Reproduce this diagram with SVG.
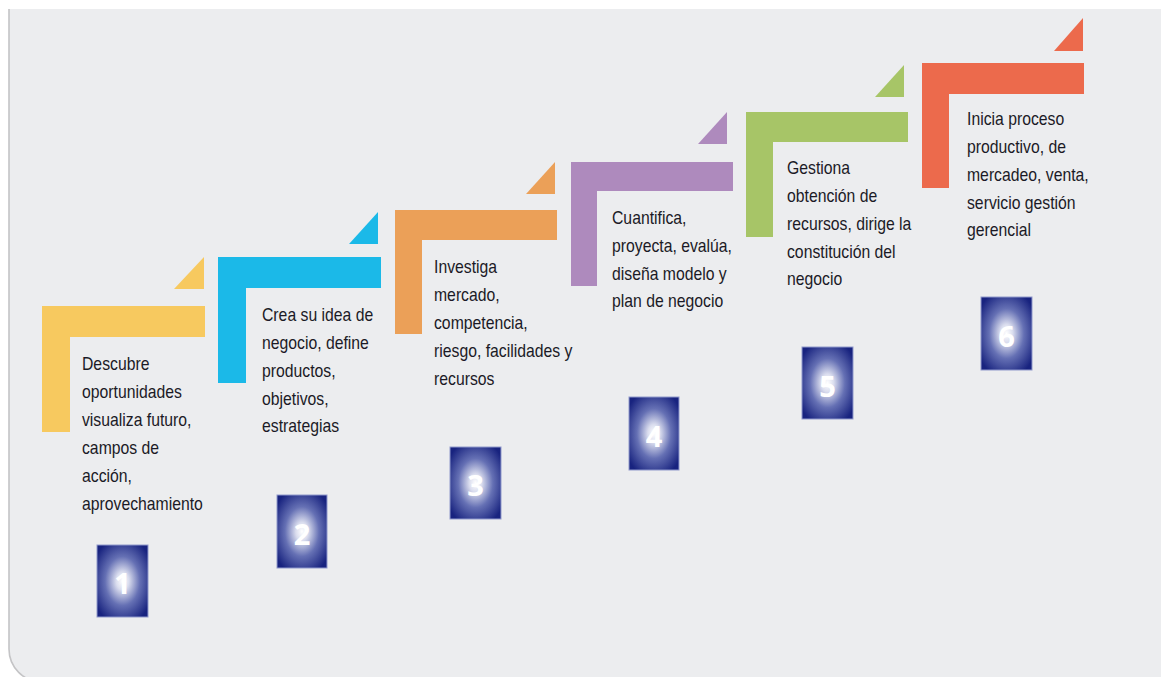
<svg xmlns="http://www.w3.org/2000/svg" width="1161" height="677" viewBox="0 0 1161 677">
  <defs>
    <radialGradient id="boxGrad" cx="0.5" cy="0.5" r="0.62">
      <stop offset="0" stop-color="#FFFFFF"/>
      <stop offset="0.2" stop-color="#DADDEE"/>
      <stop offset="0.55" stop-color="#6570B4"/>
      <stop offset="1" stop-color="#18237F"/>
    </radialGradient>
    <style>
      .txt { font-family: "Liberation Sans", Arial, sans-serif; font-size: 19px; fill: #1B1A26; }
      .num { font-family: "Open Sans", "Liberation Sans", sans-serif; font-weight: 700; font-size: 29px; fill: #FFFFFF; text-anchor: middle; }
      .box { fill: url(#boxGrad); stroke: #8F99CC; stroke-width: 1; }
      .yellow { fill: #F7C95F; }
      .cyan { fill: #1BB9E8; }
      .orange { fill: #EBA058; }
      .purple { fill: #AE8ABD; }
      .green { fill: #A7C567; }
      .red { fill: #EC6A4C; }
    </style>
  </defs>

  <rect x="0" y="0" width="1161" height="677" fill="#FFFFFF"/>
  <g id="panel">
    <path d="M 9 9 H 1161 V 682 H 42 A 33 33 0 0 1 9 649 Z" fill="#ECEDEF"/>
    <path d="M 9 9 V 649 A 33 33 0 0 0 42 682" fill="none" stroke="#C4C4C6" stroke-width="1.6"/>
  </g>

  <g id="connectors"></g>

  <g id="step1">
    <path class="yellow" d="M 42 306 H 205 V 337 H 70 V 432 H 42 Z"/>
    <polygon class="yellow" points="174,289 204,257 204,289"/>
    <text class="txt" transform="translate(82,0) scale(0.83,1)">
      <tspan x="0" y="370">Descubre</tspan>
      <tspan x="0" y="398">oportunidades</tspan>
      <tspan x="0" y="426">visualiza futuro,</tspan>
      <tspan x="0" y="454">campos de</tspan>
      <tspan x="0" y="482">acción,</tspan>
      <tspan x="0" y="510">aprovechamiento</tspan>
    </text>
  </g>
  <g id="num1">
    <rect class="box" x="97" y="545" width="51" height="72"/>
    <text class="num" x="122.5" y="594">1</text>
  </g>

  <g id="step2">
    <path class="cyan" d="M 218 257 H 381 V 288 H 246 V 383 H 218 Z"/>
    <polygon class="cyan" points="349,244 378,212 378,244"/>
    <text class="txt" transform="translate(262,0) scale(0.83,1)">
      <tspan x="0" y="321">Crea su idea de</tspan>
      <tspan x="0" y="349">negocio, define</tspan>
      <tspan x="0" y="377">productos,</tspan>
      <tspan x="0" y="405">objetivos,</tspan>
      <tspan x="0" y="432">estrategias</tspan>
    </text>
  </g>
  <g id="num2">
    <rect class="box" x="277" y="495" width="50" height="73"/>
    <text class="num" x="302" y="545">2</text>
  </g>

  <g id="step3">
    <path class="orange" d="M 395 210 H 557 V 240 H 422 V 334 H 395 Z"/>
    <polygon class="orange" points="526,194 555,162 555,194"/>
    <text class="txt" transform="translate(434,0) scale(0.83,1)">
      <tspan x="0" y="273">Investiga</tspan>
      <tspan x="0" y="301">mercado,</tspan>
      <tspan x="0" y="329">competencia,</tspan>
      <tspan x="0" y="357">riesgo, facilidades y</tspan>
      <tspan x="0" y="385">recursos</tspan>
    </text>
  </g>
  <g id="num3">
    <rect class="box" x="450" y="447" width="51" height="72"/>
    <text class="num" x="475.5" y="496">3</text>
  </g>

  <g id="step4">
    <path class="purple" d="M 571 162 H 733 V 191 H 597 V 286 H 571 Z"/>
    <polygon class="purple" points="698,144 727,112 727,144"/>
    <text class="txt" transform="translate(612,0) scale(0.83,1)">
      <tspan x="0" y="224">Cuantifica,</tspan>
      <tspan x="0" y="252">proyecta, evalúa,</tspan>
      <tspan x="0" y="280">diseña modelo y</tspan>
      <tspan x="0" y="307">plan de negocio</tspan>
    </text>
  </g>
  <g id="num4">
    <rect class="box" x="629" y="397" width="50" height="73"/>
    <text class="num" x="654" y="447">4</text>
  </g>

  <g id="step5">
    <path class="green" d="M 746 112 H 908 V 142 H 773 V 237 H 746 Z"/>
    <polygon class="green" points="875,97 904,65 904,97"/>
    <text class="txt" transform="translate(787,0) scale(0.83,1)">
      <tspan x="0" y="174">Gestiona</tspan>
      <tspan x="0" y="202">obtención de</tspan>
      <tspan x="0" y="230">recursos, dirige la</tspan>
      <tspan x="0" y="258">constitución del</tspan>
      <tspan x="0" y="285">negocio</tspan>
    </text>
  </g>
  <g id="num5">
    <rect class="box" x="802" y="347" width="51" height="72"/>
    <text class="num" x="827.5" y="397">5</text>
  </g>

  <g id="step6">
    <path class="red" d="M 922 63 H 1084 V 94 H 949 V 188 H 922 Z"/>
    <polygon class="red" points="1054,51 1083,18 1083,51"/>
    <text class="txt" transform="translate(967,0) scale(0.83,1)">
      <tspan x="0" y="125">Inicia proceso</tspan>
      <tspan x="0" y="153">productivo, de</tspan>
      <tspan x="0" y="181">mercadeo, venta,</tspan>
      <tspan x="0" y="209">servicio gestión</tspan>
      <tspan x="0" y="236">gerencial</tspan>
    </text>
  </g>
  <g id="num6">
    <rect class="box" x="981" y="297" width="51" height="73"/>
    <text class="num" x="1006.5" y="347">6</text>
  </g>
</svg>
